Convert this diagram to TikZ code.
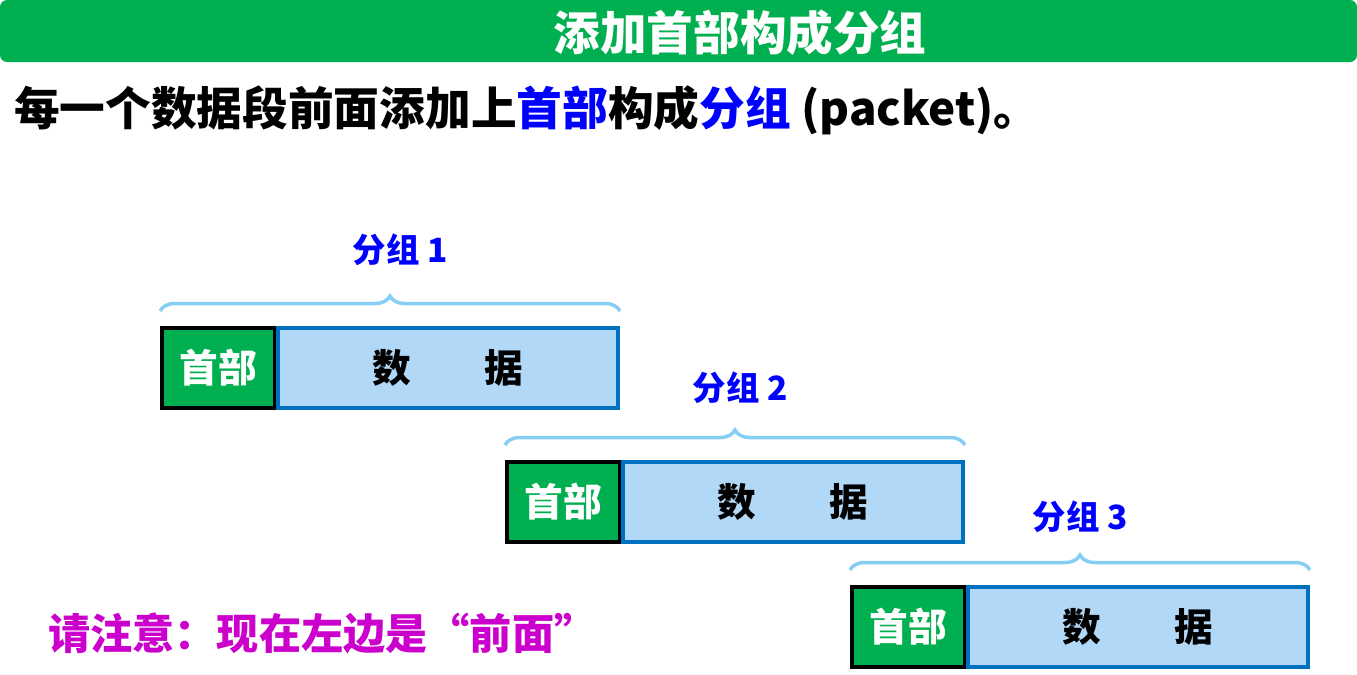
\documentclass[tikz,border=0pt]{standalone}
\usepackage{fontspec}
\setmainfont{Noto Sans CJK SC}
\usetikzlibrary{positioning,decorations.pathreplacing}
\definecolor{titlegreen}{RGB}{0,176,80}
\definecolor{datafill}{RGB}{178,216,248}
\definecolor{databorder}{RGB}{0,112,192}
\definecolor{bracecol}{RGB}{135,206,245}
\definecolor{pktblue}{RGB}{0,0,255}
\definecolor{notecol}{RGB}{204,0,204}
\begin{document}
\begin{tikzpicture}[x=0.02cm, y=-0.02cm, every node/.style={font=\bfseries},
  header/.style={draw=black, line width=2pt, fill=titlegreen, text=white, minimum width=2.26cm, minimum height=1.6cm, inner sep=0pt, font=\bfseries\fontsize{22}{24}\selectfont},
  datablk/.style={draw=databorder, line width=2pt, fill=datafill, minimum width=6.8cm, minimum height=1.6cm, inner sep=0pt, font=\bfseries\fontsize{22}{24}\selectfont},
  pktbrace/.style={draw=bracecol, line width=2pt, decorate, decoration={brace, amplitude=0.3cm}},
  pktlabel/.style={text=pktblue, font=\bfseries\fontsize{19}{21}\selectfont}]

  \useasboundingbox (0,0) rectangle (1357,674);

  % title bar
  \fill[titlegreen, rounded corners=4pt] (0,0) rectangle (1357,62);
  \node[text=white, font=\bfseries\fontsize{26.5}{28}\selectfont] (title) at (740,33) {添加首部构成分组};
  \node[anchor=west, font=\bfseries\fontsize{26}{28}\selectfont] (intro) at (8,110)
    {每一个数据段前面添加上\textcolor{pktblue}{首部}构成\textcolor{pktblue}{分组} (packet)。};

  % packet 1
  \node[header, anchor=north west] (H1) at (160,326) {首部};
  \node[datablk, right=0pt of H1] (D1) {数\hspace{1.9em}据};
  \draw[pktbrace] ([yshift=0.3cm]H1.north west) -- ([yshift=0.3cm]D1.north east);
  \node[pktlabel] (L1) at (400,250) {分组 1};

  % packet 2
  \node[header, anchor=north west] (H2) at (505,460) {首部};
  \node[datablk, right=0pt of H2] (D2) {数\hspace{1.9em}据};
  \draw[pktbrace] ([yshift=0.3cm]H2.north west) -- ([yshift=0.3cm]D2.north east);
  \node[pktlabel] (L2) at (740,388) {分组 2};

  % packet 3
  \node[header, anchor=north west] (H3) at (850,585) {首部};
  \node[datablk, right=0pt of H3] (D3) {数\hspace{1.9em}据};
  \draw[pktbrace] ([yshift=0.3cm]H3.north west) -- ([yshift=0.3cm]D3.north east);
  \node[pktlabel] (L3) at (1080,517) {分组 3};

  % note
  \node[anchor=west, text=notecol, font=\bfseries\fontsize{24}{26}\selectfont] (note) at (42,633) {请注意：现在左边是“前面”};

\end{tikzpicture}
\end{document}
